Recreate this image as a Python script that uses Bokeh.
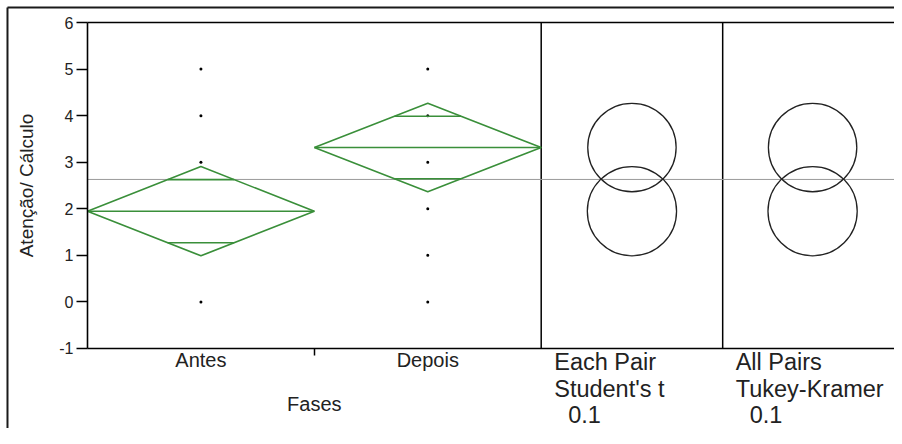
import math
from bokeh.plotting import figure
from bokeh.models import FixedTicker, Label, Range1d, LinearAxis
from bokeh.embed import file_html
from bokeh.resources import INLINE

# ---- data ----
categories = ["Antes", "Depois"]
means = [1.948, 3.315]
ci_half = [0.958, 0.949]
grand_mean = 2.63
antes_points = [0, 3, 4, 5]
depois_points = [0, 1, 2, 3, 4, 5]
y_ticks = [-1, 0, 1, 2, 3, 4, 5, 6]
x_title = "Fases"
y_title = "Atenção/ Cálculo"
panel1_lines = ["Each Pair", "Student's t", "0.1"]
panel2_lines = ["All Pairs", "Tukey-Kramer", "0.1"]

# ---- layout (canvas expressed in data units) ----
X_START, X_END = -0.3835, 3.5574
Y_START, Y_END = -2.7178, 6.4724
Y_LO, Y_HI = -1, 6
panel_bounds = [2.0, 2.8, 3.5927]
BORDER_X, BORDER_Y = -0.3527, 6.3221

FONT = "Liberation Sans"
TXT = "#222222"
GREEN = "#3a8f3a"

p = figure(width=894, height=428, x_range=Range1d(X_START, X_END), y_range=Range1d(Y_START, Y_END),
           output_backend="svg", toolbar_location=None, title=None,
           x_axis_location=None, y_axis_location=None,
           min_border=0, min_border_left=0, min_border_right=0, min_border_top=0, min_border_bottom=0,
           background_fill_color="white", border_fill_color="white")
p.xgrid.visible = False
p.ygrid.visible = False
p.outline_line_color = None

# outer border (left and top)
p.segment(x0=[BORDER_X, BORDER_X], y0=[Y_START, BORDER_Y], x1=[BORDER_X, X_END], y1=[BORDER_Y, BORDER_Y],
          line_color="#1a1a1a", line_width=2)

# plot box: top edge, panel dividers
p.segment(x0=[0], y0=[Y_HI], x1=[X_END], y1=[Y_HI], line_color="black", line_width=1.6)
p.segment(x0=panel_bounds[:2], y0=[Y_LO] * 2, x1=panel_bounds[:2], y1=[Y_HI] * 2,
          line_color="black", line_width=1.5)

# y axis
ya = LinearAxis(fixed_location=0, bounds=(Y_LO, Y_HI))
ya.ticker = FixedTicker(ticks=y_ticks)
ya.major_label_overrides = {t: str(t) for t in y_ticks}
ya.major_tick_out = 11
ya.major_tick_in = 0
ya.minor_tick_out = 0
ya.minor_tick_in = 0
ya.major_tick_line_width = 1.5
ya.major_tick_line_color = "black"
ya.axis_line_color = "black"
ya.axis_line_width = 1.6
ya.major_label_standoff = 3
ya.major_label_text_font = FONT
ya.major_label_text_font_size = "16px"
ya.major_label_text_color = TXT
p.add_layout(ya, "left")

# x axis (categories at centers, boundary tick between them)
centers = [i + 0.5 for i in range(len(categories))]
xa = LinearAxis(fixed_location=Y_LO, bounds=(0, X_END))
xa.ticker = FixedTicker(ticks=centers, minor_ticks=[1.0])
xa.major_label_overrides = {c: name for c, name in zip(centers, categories)}
xa.major_tick_line_color = None
xa.major_tick_out = 0
xa.major_tick_in = 0
xa.minor_tick_out = 7
xa.minor_tick_in = 0
xa.minor_tick_line_color = "black"
xa.minor_tick_line_width = 1.5
xa.axis_line_color = "black"
xa.axis_line_width = 1.6
xa.major_label_standoff = -6
xa.major_label_text_font = FONT
xa.major_label_text_font_size = "20px"
xa.major_label_text_color = TXT
p.add_layout(xa, "below")

# grand mean line
p.segment(x0=[0], y0=[grand_mean], x1=[X_END], y1=[grand_mean], line_color="#9a9a9a", line_width=1)

# data points
p.scatter(x=[0.5] * len(antes_points), y=antes_points, size=3, color="black", line_width=0)
p.scatter(x=[1.5] * len(depois_points), y=depois_points, size=3, color="black", line_width=0)

# means diamonds
dxs, dys, lxs, lys = [], [], [], []
h = 0.5 * (1 - 1 / math.sqrt(2))
for i, (m, c) in enumerate(zip(means, ci_half)):
    dxs.append([i, i + 0.5, i + 1, i + 0.5, i])
    dys.append([m, m + c, m, m - c, m])
    lxs.append([i, i + 1]); lys.append([m, m])
    d = c / math.sqrt(2)
    for s in (1, -1):
        lxs.append([i + 0.5 - h, i + 0.5 + h]); lys.append([m + s * d, m + s * d])
p.multi_line(xs=dxs, ys=dys, line_color=GREEN, line_width=1.6)
p.multi_line(xs=lxs, ys=lys, line_color=GREEN, line_width=1.6)

# comparison circles
for k in range(2):
    cx = (panel_bounds[k] + panel_bounds[k + 1]) / 2
    p.circle(x=[cx] * len(means), y=means, radius=ci_half, radius_dimension="y",
             fill_color=None, line_color="#222222", line_width=1.3)

# texts
p.add_layout(Label(x=0, y=(Y_LO + Y_HI) / 2, x_offset=-61, angle=math.pi / 2, text=y_title,
                   text_align="center", text_baseline="alphabetic", text_font=FONT,
                   text_font_size="19px", text_color=TXT))
p.add_layout(Label(x=1.0, y=Y_LO, y_offset=-56, text=x_title, text_align="center",
                   text_baseline="alphabetic", text_font=FONT, text_font_size="20px", text_color=TXT))
offs = [(13, -14), (13, -41), (27, -66)]
for k, lines in enumerate([panel1_lines, panel2_lines]):
    for (xo, yo), t in zip(offs, lines):
        p.add_layout(Label(x=panel_bounds[k], y=Y_LO, x_offset=xo, y_offset=yo, text=t,
                           text_align="left", text_baseline="alphabetic", text_font=FONT,
                           text_font_size="23.5px", text_color=TXT))

open("out.html", "w").write(file_html(p, INLINE))
